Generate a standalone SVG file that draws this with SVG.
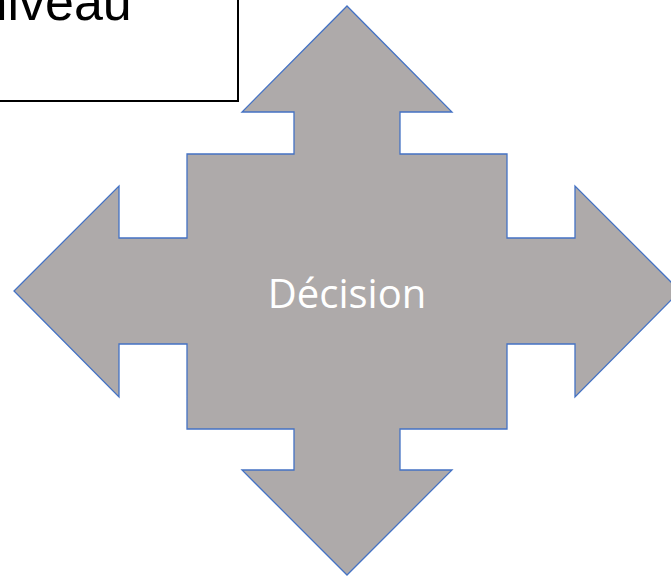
<svg xmlns="http://www.w3.org/2000/svg" width="671" height="577" viewBox="0 0 671 577">
<style>
.box{fill:#ffffff;stroke:#000000;stroke-width:2}
.lbl{font-family:"Liberation Sans",Arial,sans-serif;fill:#000000}
.shape{fill:#AEAAAA;stroke:#4472C4;stroke-width:1.3;stroke-linejoin:miter}
.dec{font-family:"Open Sans","Noto Sans",sans-serif;fill:#ffffff}
</style>
<rect width="671" height="577" fill="#ffffff"/>
<g id="niveau-box">
<rect class="box" x="-20" y="-20" width="258" height="121"/>
<text class="lbl" x="-21.5" y="20" font-size="52">niveau</text>
</g>
<g id="decision">
<path class="shape" d="M347,6 L452,112 L400,112 L400,154 L507,154 L507,238 L575,238 L575,186 L680,291 L575,397 L575,344 L507,344 L507,429 L400,429 L400,470 L452,470 L347,575 L242,470 L294,470 L294,429 L187,429 L187,344 L119,344 L119,397 L14,291 L119,186 L119,238 L187,238 L187,154 L294,154 L294,112 L242,112 Z"/>
<text class="dec" x="347" y="308" font-size="40" text-anchor="middle">Décision</text>
</g>
<g id="connectors"></g>
</svg>
